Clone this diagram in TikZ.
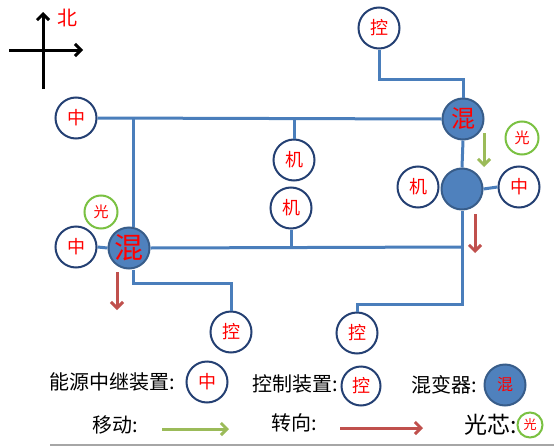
\documentclass[tikz,border=0pt]{standalone}
\usepackage{fontspec}
\setmainfont{Noto Sans CJK SC}
\usetikzlibrary{arrows.meta}
\definecolor{ringnavy}{RGB}{36,64,115}
\definecolor{wireblue}{RGB}{74,126,187}
\definecolor{mixblue}{RGB}{79,129,189}
\definecolor{mixborder}{RGB}{56,93,138}
\definecolor{movegreen}{RGB}{155,187,89}
\definecolor{coregreen}{RGB}{122,193,66}
\definecolor{turnred}{RGB}{192,80,77}
\definecolor{textred}{RGB}{255,0,0}

\begin{document}
\begin{tikzpicture}[x=1pt, y=-1pt,
        ringnode/.style={shape=circle, draw=ringnavy, fill=white, line width=2pt, minimum size=41pt, inner sep=0pt, text=textred, font=\fontsize{18}{18}\selectfont},
        mixnode/.style={shape=circle, draw=mixborder, fill=mixblue, line width=2pt, minimum size=41pt, inner sep=0pt, text=textred},
        corenode/.style={shape=circle, draw=coregreen, fill=white, line width=2pt, minimum size=33pt, inner sep=0pt, text=textred, font=\fontsize{15}{15}\selectfont},
        wire/.style={draw=wireblue, line width=3pt},
        barb/.style={line width=3pt, -{Straight Barb[length=6pt, width=12pt]}},
        legendtext/.style={anchor=west, inner sep=0pt, font=\fontsize{20}{20}\selectfont}]
        \useasboundingbox (0,0) rectangle (554,447);
        % Compass
        \draw[barb, black] (43,89) -- (43,12);
        \draw[barb, black] (9,50) -- (83,50);
        \node[text=textred, font=\fontsize{20}{20}\selectfont] (north) at (67,18) {北};
        % Devices
        \node[ringnode] (relaytop) at (76,118) {中};
        \node[ringnode] (relayleft) at (76,247) {中};
        \node[mixnode, font=\fontsize{29}{29}\selectfont] (mixleft) at (129,248) {混};
        \node[corenode] (coreleft) at (101,212) {光};
        \node[ringnode] (machineup) at (294,160) {机};
        \node[ringnode] (machinedown) at (291,208) {机};
        \node[ringnode] (ctrltop) at (379,28) {控};
        \node[mixnode, font=\fontsize{24}{24}\selectfont] (mixright) at (463,119) {混};
        \node[corenode] (coreright) at (522,138) {光};
        \node[mixnode] (hub) at (462,189) {};
        \node[ringnode] (machineright) at (418,187) {机};
        \node[ringnode] (relayright) at (519,187) {中};
        \node[ringnode] (ctrlleft) at (231,332) {控};
        \node[ringnode] (ctrlright) at (357,333) {控};
        % Wires
        \coordinate (topjoin) at (133,118);
        \coordinate (mainjoin) at (462,247);
        \coordinate (lowjoin) at (133,283);
        \draw[wire] (relaytop.east) -- (mixright.west);
        \draw[wire] (topjoin) -- (topjoin |- mixleft.north);
        \draw[wire] (machineup.north) -- (machineup.north |- topjoin);
        \draw[wire] (relayleft.east) -- (mixleft.west);
        \draw[wire] (mixleft.east) -- (mainjoin);
        \draw[wire] (machinedown.south) -- (machinedown.south |- mainjoin);
        \draw[wire] (lowjoin |- mixleft.south) -- (lowjoin) -| (ctrlleft.north);
        \draw[wire] (ctrltop.south) -- ++(0,30) -| (mixright.north);
        \draw[wire] (mixright.south) -- (hub.north);
        \draw[wire] (hub.east) -- (relayright.west);
        \draw[wire] (hub.south) -- ++(0,94) -| (ctrlright.north);
        % Moves and turns
        \draw[barb, movegreen] (484,133) -- (484,167);
        \draw[barb, turnred] (475,214) -- (475,253);
        \draw[barb, turnred] (117,272) -- (117,310);
        % Legend
        \node[legendtext] (relaylabel) at (49,382) {能源中继装置:};
        \node[ringnode] (relaykey) at (207,382) {中};
        \node[legendtext] (ctrllabel) at (252,384) {控制装置:};
        \node[ringnode, minimum size=39pt] (ctrlkey) at (361,386) {控};
        \node[legendtext] (mixlabel) at (411,385) {混变器:};
        \node[mixnode, font=\fontsize{16}{16}\selectfont] (mixkey) at (505,385) {混};
        \node[legendtext] (movelabel) at (92,425) {移动:};
        \coordinate (movestart) at (162,429);
        \coordinate (moveend) at (229,429);
        \draw[barb, movegreen] (movestart) -- (moveend);
        \node[legendtext] (turnlabel) at (271,423) {转向:};
        \coordinate (turnstart) at (340,428);
        \coordinate (turnend) at (423,428);
        \draw[barb, turnred] (turnstart) -- (turnend);
        \node[legendtext, font=\fontsize{23}{23}\selectfont] (corelabel) at (464,425) {光芯:};
        \node[corenode, minimum size=25pt, font=\fontsize{13}{13}\selectfont] (corekey) at (530,425) {光};
        \draw[gray!70, line width=2pt] (50,445) -- (554,445);
\end{tikzpicture}
\end{document}
